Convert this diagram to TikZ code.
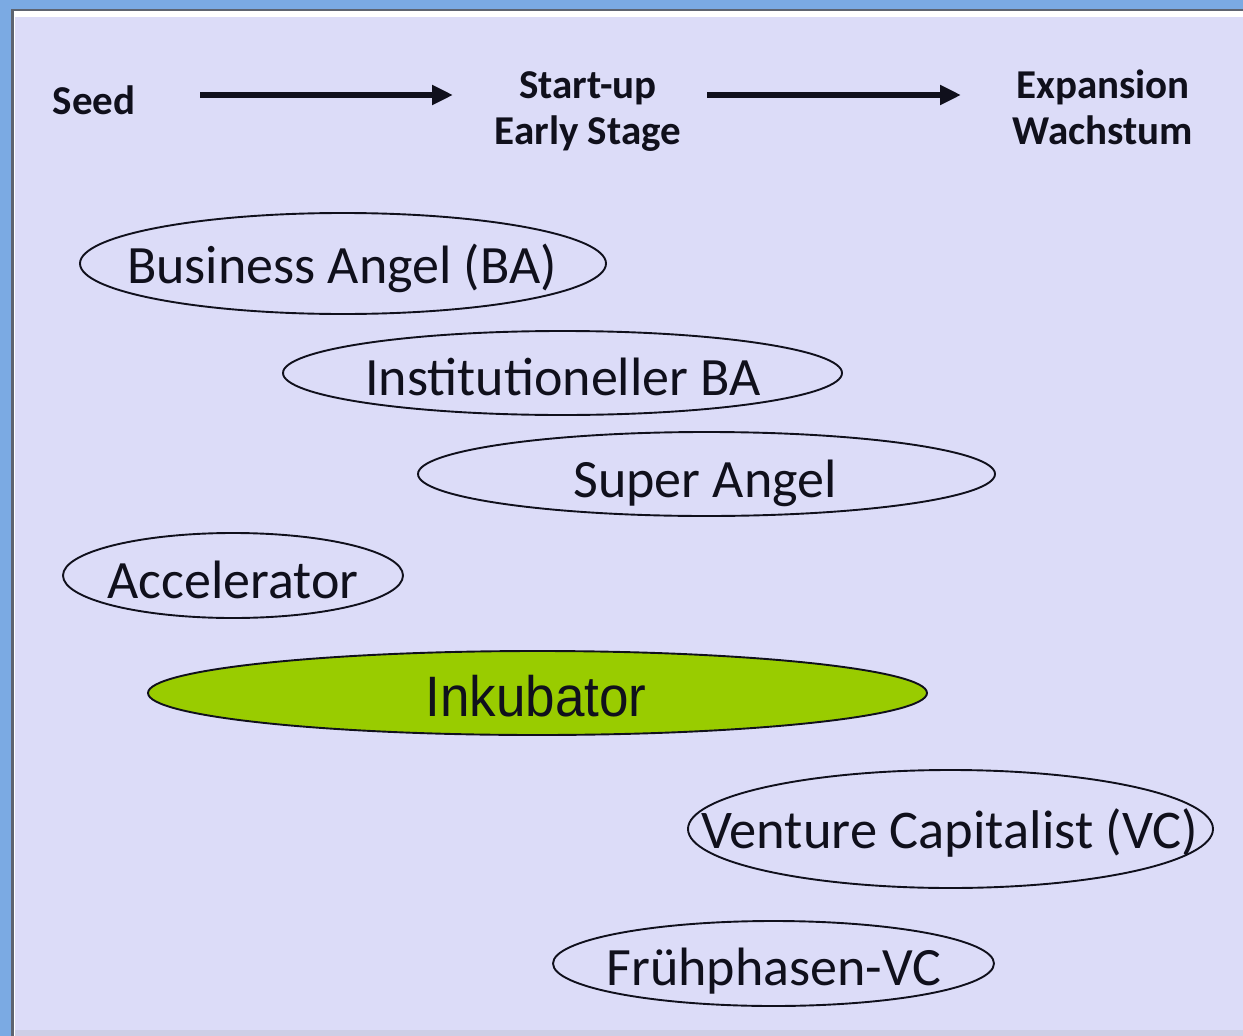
\documentclass[tikz,border=0pt]{standalone}
\usepackage{fontspec}
\setmainfont{Carlito}
\newfontfamily\arialf{Liberation Sans}
\usetikzlibrary{shapes.geometric,arrows.meta}
\definecolor{bgblue}{HTML}{7BAAE3}
\definecolor{lav}{HTML}{DCDCF8}
\definecolor{edge}{HTML}{5E6470}
\definecolor{ink}{HTML}{10101C}
\definecolor{green}{HTML}{99CC00}
\begin{document}
\begin{tikzpicture}[x=1pt,y=-1pt,
  oval/.style={ellipse, draw=ink, line width=1.9pt, inner sep=0pt},
  lab/.style={anchor=base, text=ink, font=\fontsize{54}{60}\selectfont, inner sep=0pt},
  head/.style={text=ink, font=\bfseries\fontsize{41}{46}\selectfont, align=center, inner sep=0pt},
  flow/.style={line width=5.5pt, draw=ink, -{Triangle[length=21pt,width=19pt]}}]
\useasboundingbox (0,0) rectangle (1243,1036);
\fill[bgblue] (0,0) rectangle (1243,1036);
\fill[edge] (11,9) rectangle (1243,1036);
\fill[white] (14,11) rectangle (1243,1036);
\fill[lav] (15,17) rectangle (1243,1036);
\fill[lav!85!gray] (15,1030) rectangle (1243,1036);
% headers
\node[head, anchor=base] (seed) at (94,114) {Seed};
\node[head, anchor=base] (su1) at (588,98) {Start-up};
\node[head, anchor=base] (su2) at (588,144) {Early Stage};
\node[head, anchor=base] (ex1) at (1103,98) {Expansion};
\node[head, anchor=base] (ex2) at (1103,144) {Wachstum};
\coordinate (a1s) at (200,95);
\coordinate (a1e) at (453,95);
\coordinate (a2s) at (707,95);
\coordinate (a2e) at (961,95);
\draw[flow] (a1s) -- (a1e);
\draw[flow] (a2s) -- (a2e);
% ellipses
\node[oval, minimum width=526pt, minimum height=101pt] (ba) at (343,263.5) {};
\node[lab] (tba) at (342,283) {Business Angel (BA)};
\node[oval, minimum width=559pt, minimum height=84pt] (iba) at (562.5,373) {};
\node[lab] (tiba) at (563,395) {Institutioneller BA};
\node[oval, minimum width=577pt, minimum height=84pt] (sa) at (706.5,474) {};
\node[lab] (tsa) at (705,497) {Super Angel};
\node[oval, minimum width=340pt, minimum height=85pt] (acc) at (233,575.5) {};
\node[lab] (tacc) at (233,598) {Accelerator};
\node[oval, fill=green, minimum width=779pt, minimum height=84pt] (ink) at (537.5,693) {};
\node[lab, font=\arialf\fontsize{57}{60}\selectfont] (tink) at (536,716) {\scalebox{0.93}[1]{Inkubator}};
\node[oval, minimum width=525pt, minimum height=118pt] (vc) at (950.5,829) {};
\node[lab, font=\fontsize{54.5}{60}\selectfont] (tvc) at (950,848) {Venture Capitalist (VC)};
\node[oval, minimum width=441pt, minimum height=85pt] (fvc) at (773.5,963.5) {};
\node[lab] (tfvc) at (774,985) {Frühphasen-VC};
\end{tikzpicture}
\end{document}
